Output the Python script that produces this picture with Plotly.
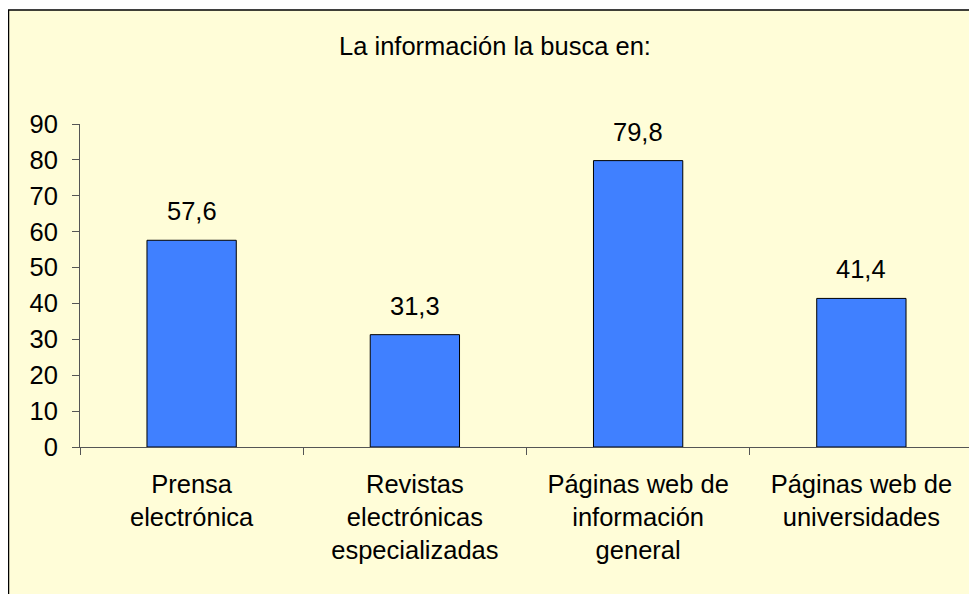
import plotly.graph_objects as go

categories = ["Prensa<br>electrónica", "Revistas<br>electrónicas<br>especializadas",
              "Páginas web de<br>información<br>general", "Páginas web de<br>universidades"]
values = [57.6, 31.3, 79.8, 41.4]
labels = [f"{v:.1f}".replace(".", ",") for v in values]

W, H = 977, 594
L, R, T, B = 72, 12, 116, 155
pw, ph = W - L - R, H - T - B
FONT = "Liberation Sans, Arial"
FS = 25.5

fig = go.Figure(go.Bar(
    x=categories, y=values,
    marker=dict(color="#4080FF", line=dict(color="black", width=1)),
    width=0.4,
))

for c, v, t in zip(categories, values, labels):
    fig.add_annotation(x=c, y=v, text=t, showarrow=False, yanchor="middle",
                       yshift=29, font=dict(size=FS, color="black", family=FONT))

fig.update_layout(
    width=W, height=H,
    margin=dict(l=L, r=R, t=T, b=B),
    paper_bgcolor="white",
    plot_bgcolor="rgba(0,0,0,0)",
    font=dict(family=FONT, size=FS, color="black"),
    showlegend=False,
    title=dict(text="La información la busca en:", x=487 / W, xanchor="center",
               y=1 - 38 / H, yanchor="middle", font=dict(size=FS)),
    shapes=[dict(type="rect", xref="paper", yref="paper",
                 x0=(0.5 - L) / pw, x1=(W + 20 - L) / pw,
                 y0=-(B + 20) / ph, y1=(ph + T - 2) / ph,
                 fillcolor="#FFFDD8", line=dict(color="black", width=1.5), layer="below")],
)
fig.update_yaxes(range=[0, 90], dtick=10, ticks="outside", ticklen=7, tickcolor="#555",
                 showline=True, linecolor="#555", linewidth=1, showgrid=False, zeroline=False,
                 tickfont=dict(size=FS), ticklabelstandoff=9)
fig.update_xaxes(ticks="outside", tickson="boundaries", ticklen=7, tickcolor="#555",
                 showline=True, linecolor="#555", linewidth=1, showgrid=False,
                 tickfont=dict(size=FS), tickangle=0, ticklabelstandoff=14)

fig.write_html("out.html")
